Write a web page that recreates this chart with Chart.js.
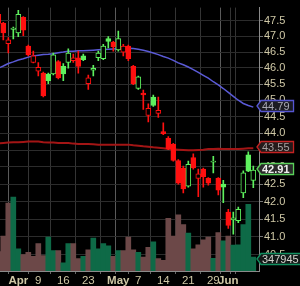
<!DOCTYPE html>
<html>
<head>
<meta charset="utf-8">
<script src="https://cdn.jsdelivr.net/npm/chart.js@4.4.1/dist/chart.umd.min.js"></script>
<style>
  html, body { margin: 0; padding: 0; background: #000; }
  #wrap { width: 300px; height: 286px; position: relative; }
</style>
</head>
<body>
<div id="wrap"><canvas id="c"></canvas></div>
<script>
// Sedute (27 mar – 8 giu), OHLC, volumi e medie mobili
const days = ['Mar 27', 'Mar 28', 'Mar 29', 'Mar 30',
  'Apr 2', 'Apr 3', 'Apr 4', 'Apr 5', 'Apr 9', 'Apr 10', 'Apr 11', 'Apr 12', 'Apr 13',
  'Apr 16', 'Apr 17', 'Apr 18', 'Apr 19', 'Apr 20', 'Apr 23', 'Apr 24', 'Apr 25', 'Apr 26', 'Apr 27', 'Apr 30',
  'May 1', 'May 2', 'May 3', 'May 4', 'May 7', 'May 8', 'May 9', 'May 10', 'May 11',
  'May 14', 'May 15', 'May 16', 'May 17', 'May 18', 'May 21', 'May 22', 'May 23', 'May 24', 'May 25',
  'May 29', 'May 30', 'May 31', 'Jun 1', 'Jun 4', 'Jun 5', 'Jun 6', 'Jun 7', 'Jun 8'];

const opens = [47.71, 47.42, 46.77, 47.22, 47.11, 47.61, 46.69, 46.17, 45.90, 45.84, 45.81, 45.81, 46.20,
  46.05, 46.17, 46.23, 46.32, 46.38, 45.51, 45.93, 46.32, 46.29, 46.93, 46.81,
  46.57, 46.50, 46.69, 46.05, 45.36, 45.22, 44.54, 45.10, 44.60,
  44.05, 43.85, 43.67, 43.19, 42.97, 42.44, 43.28, 42.67, 42.94, 42.67,
  43.14, 42.67, 42.50, 41.70, 41.48, 41.46, 42.25, 43.36, 42.61];
const highs = [47.80, 47.45, 46.96, 47.30, 47.84, 47.64, 46.72, 46.53, 46.17, 45.87, 45.84, 46.47, 46.23,
  46.14, 46.60, 46.44, 46.53, 46.44, 45.78, 46.08, 46.53, 46.75, 46.99, 46.84,
  47.17, 46.75, 46.72, 46.08, 45.75, 45.31, 44.89, 45.16, 45.10,
  44.31, 43.90, 43.70, 43.22, 43.03, 43.17, 43.39, 42.94, 42.97, 42.69,
  43.31, 42.69, 42.61, 41.78, 41.70, 41.84, 42.89, 43.45, 43.03];
const lows = [47.36, 46.89, 46.47, 46.92, 46.99, 47.02, 46.38, 46.16, 45.75, 45.10, 45.51, 45.78, 45.66,
  45.60, 45.99, 46.17, 45.84, 46.23, 45.33, 45.75, 46.23, 46.26, 46.63, 46.53,
  46.53, 46.38, 46.23, 45.48, 45.33, 44.72, 44.34, 44.81, 44.48,
  43.96, 43.51, 43.17, 42.50, 42.25, 42.41, 42.94, 42.14, 42.41, 42.47,
  42.83, 42.19, 41.97, 41.24, 41.08, 41.40, 42.11, 42.86, 42.40];
const closes = [47.42, 47.11, 46.89, 47.27, 47.71, 47.20, 46.41, 46.38, 46.02, 45.13, 45.60, 46.41, 45.69,
  45.81, 46.47, 46.32, 46.05, 46.26, 45.69, 45.99, 46.47, 46.69, 46.84, 46.66,
  46.93, 46.69, 46.29, 45.51, 45.72, 45.16, 44.75, 44.84, 44.69,
  43.99, 43.53, 43.19, 42.53, 42.36, 43.08, 42.97, 42.80, 42.72, 42.53,
  43.17, 42.33, 42.41, 41.32, 41.54, 41.78, 42.83, 42.88, 42.91];
const volumes = [487000, 876000, 1703000, 1849000, 552000, 414000, 470000, 365000, 689000, 389000, 852000, 511000, 511000,
  202000, 689000, 689000, 309000, 365000, 528000, 827000, 552000, 689000, 633000, 365000,
  511000, 511000, 852000, 528000, 470000, 348000, 591000, 730000, 309000,
  268000, 1321000, 876000, 1404000, 1160000, 949000, 552000, 657000, 779000, 852000,
  316000, 961000, 754000, 876000, 650000, 657000, 1160000, 1671000, 347945];
// media mobile breve (blu) e lunga (rossa)
const maShort = [45.99, 46.06, 46.14, 46.19, 46.25, 46.29, 46.34, 46.38, 46.40, 46.42, 46.43, 46.45, 46.48,
  46.50, 46.53, 46.53, 46.54, 46.54, 46.55, 46.56, 46.57, 46.58, 46.59, 46.60,
  46.61, 46.61, 46.62, 46.61, 46.59, 46.56, 46.52, 46.47, 46.42,
  46.36, 46.31, 46.24, 46.16, 46.10, 46.03, 45.95, 45.86, 45.77, 45.68,
  45.57, 45.47, 45.36, 45.24, 45.12, 45.00, 44.90, 44.84, 44.79];
const maLong = [43.70, 43.71, 43.72, 43.73, 43.73, 43.74, 43.75, 43.75, 43.75, 43.73, 43.72, 43.72, 43.71,
  43.71, 43.71, 43.69, 43.68, 43.68, 43.68, 43.67, 43.66, 43.66, 43.66, 43.66,
  43.66, 43.66, 43.66, 43.64, 43.63, 43.61, 43.60, 43.58, 43.57,
  43.55, 43.53, 43.52, 43.51, 43.50, 43.49, 43.49, 43.50, 43.51, 43.53,
  43.53, 43.54, 43.53, 43.53, 43.53, 43.53, 43.54, 43.55, 43.55];

const priceTicks = [40.5, 41.0, 41.5, 42.0, 42.5, 43.0, 43.5, 44.0, 44.5, 45.0, 45.5, 46.0, 46.5, 47.0, 47.5];
const xTickIdx = [4, 8, 13, 18, 23, 24, 28, 33, 38, 43, 46, 47];
const xTickText = ['Apr', '9', '16', '23', '', 'May', '7', '14', '21', '29', 'Jun', ''];
const monthIdx = [4, 24, 46];

const RED = '#ff1010', GREEN = '#5ef05e';
const VOL_RED = '#6c4848', VOL_GREEN = '#0e6a47';
const TXT = '#cfc8a6';

const up = closes.map((c, i) => c >= (i ? closes[i - 1] : opens[0]));
const hollow = closes.map((c, i) => c > opens[i]);
const col = up.map((u) => (u ? GREEN : RED));

const pt = (arr) => arr.map((v, i) => ({ x: i, y: v }));

// cartellini sull'asse destro (ultimo valore di ogni serie)
const tagPlugin = {
  id: 'tags',
  afterDraw(chart) {
    const ctx = chart.ctx, y = chart.scales.y, yv = chart.scales.yVol;
    const x0 = chart.chartArea.right - 2;
    const last = (a) => a[a.length - 1];
    const tags = [
      { py: y.getPixelForValue(last(maShort)) - 2, text: last(maShort).toFixed(2), border: '#5656d2', fill: '#1b1b22', color: '#a9a9b4', bold: false },
      { py: y.getPixelForValue(last(maLong)) - 2, text: last(maLong).toFixed(2), border: '#c42222', fill: '#241a1a', color: '#a8a0a0', bold: false },
      { py: y.getPixelForValue(last(closes)) - 2, text: last(closes).toFixed(2), border: '#5ad05a', fill: '#2a2a2a', color: '#f0f0f0', bold: true },
      { py: yv.getPixelForValue(last(volumes)) + 1, text: String(last(volumes)), border: '#129060', fill: '#141a18', color: '#d6d6d0', bold: false },
    ];
    ctx.save();
    tags.forEach((t) => {
      ctx.font = (t.bold ? 'bold ' : '') + '11px "Liberation Sans", Arial, sans-serif';
      const w = ctx.measureText(t.text).width + 9, h = 11;
      const top = Math.round(t.py - h / 2) + 0.5;
      ctx.beginPath();
      ctx.moveTo(x0, top + h / 2);
      ctx.lineTo(x0 + 4, top);
      ctx.lineTo(x0 + w, top);
      ctx.lineTo(x0 + w, top + h);
      ctx.lineTo(x0 + 4, top + h);
      ctx.closePath();
      ctx.fillStyle = t.fill;
      ctx.fill();
      ctx.lineWidth = 1.3;
      ctx.strokeStyle = t.border;
      ctx.stroke();
      ctx.fillStyle = t.color;
      ctx.textBaseline = 'middle';
      ctx.textAlign = 'left';
      ctx.fillText(t.text, x0 + 5, top + h / 2 + 0.5);
    });
    ctx.restore();
  },
};

new Chart(document.getElementById('c'), {
  type: 'bar',
  data: {
    datasets: [
      { label: 'volume', yAxisID: 'yVol', data: pt(volumes), backgroundColor: up.map((u) => (u ? VOL_GREEN : VOL_RED)),
        barThickness: 5, grouped: false, order: 5 },
      { type: 'line', label: 'media lunga', data: pt(maLong), borderColor: '#a31515', borderWidth: 2, pointRadius: 0, order: 4 },
      { type: 'line', label: 'media breve', data: pt(maShort), borderColor: '#5a5ad6', borderWidth: 1.5, pointRadius: 0, order: 4 },
      { label: 'ombre', data: highs.map((h, i) => ({ x: i, y: [lows[i], h] })), backgroundColor: col,
        barThickness: 1, grouped: false, order: 2 },
      { label: 'corpi', data: opens.map((o, i) => ({ x: i, y: [o, closes[i]] })),
        backgroundColor: col.map((c, i) => (hollow[i] ? '#000' : c)), borderColor: col, borderWidth: 1,
        borderSkipped: false, minBarLength: 1, barThickness: 5, grouped: false, order: 1 },
    ],
  },
  options: {
    responsive: true, maintainAspectRatio: false, animation: false, devicePixelRatio: 1,
    layout: { padding: 0 },
    plugins: { legend: { display: false }, tooltip: { enabled: false } },
    scales: {
      x: {
        type: 'linear', min: 0.34, max: 52.14, offset: false,
        afterBuildTicks: (s) => { s.ticks = xTickIdx.map((v) => ({ value: v })); },
        afterFit: (s) => { s.height = 15; },
        grid: {
          color: (c) => (c.tick && monthIdx.includes(c.tick.value) ? '#5a5a5a' : '#343434'),
          lineWidth: 1, tickLength: 3, tickColor: '#666',
        },
        border: { color: '#8a8a8a' },
        ticks: {
          autoSkip: false, maxRotation: 0, padding: 0, color: TXT,
          font: (c) => ({ family: '"Liberation Sans", Arial, sans-serif', size: 11.5, weight: c.tick && monthIdx.includes(c.tick.value) ? 'bold' : 'normal' }),
          callback: (v) => { const i = xTickIdx.indexOf(v); return i < 0 ? '' : xTickText[i]; },
        },
      },
      y: {
        type: 'logarithmic', position: 'right', min: 40.06, max: 47.93,
        afterBuildTicks: (s) => { s.ticks = priceTicks.map((v) => ({ value: v })); },
        afterFit: (s) => { s.width = 41; },
        grid: { color: '#2c2c2c', tickLength: 4, tickColor: '#777' },
        border: { color: '#8a8a8a' },
        ticks: { color: TXT, padding: 1, font: { family: '"Liberation Sans", Arial, sans-serif', size: 11 }, callback: (v) => Number(v).toFixed(1) },
      },
      yVol: { type: 'linear', display: false, min: 0, max: 6593000 },
    },
  },
  plugins: [tagPlugin],
});
</script>
</body>
</html>
